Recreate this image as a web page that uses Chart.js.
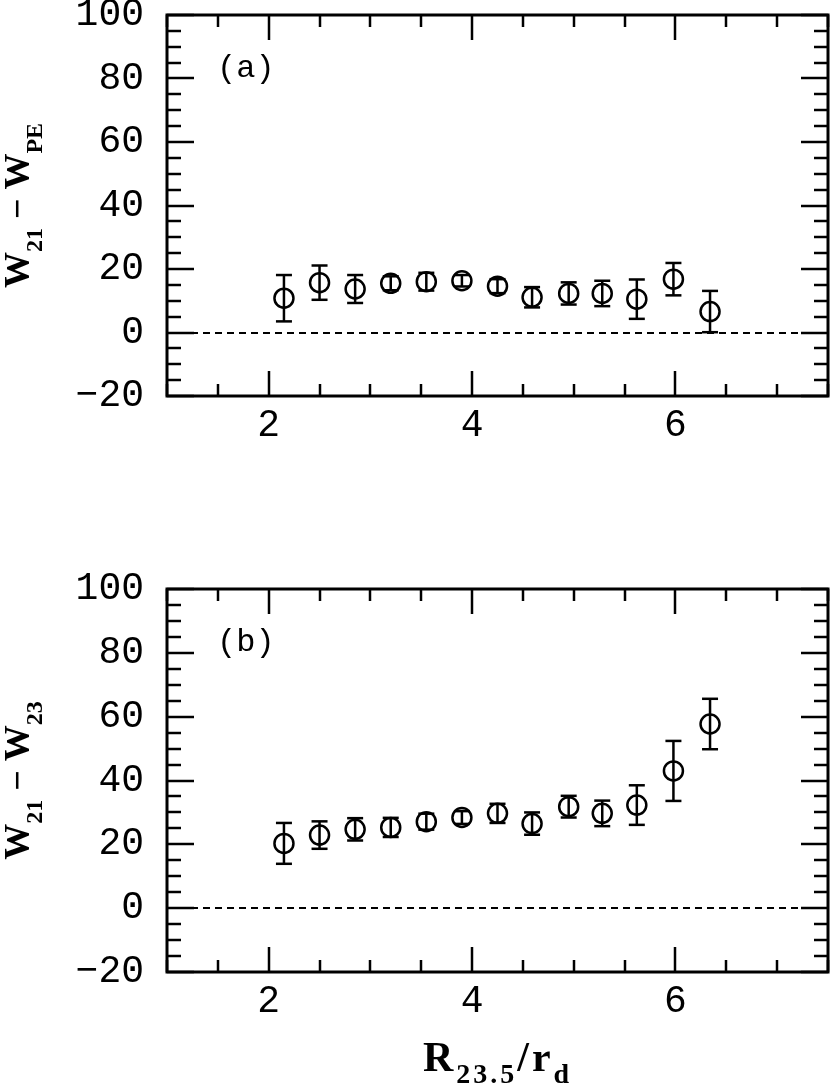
<!DOCTYPE html>
<html>
<head>
<meta charset="utf-8">
<script src="https://cdn.jsdelivr.net/npm/chart.js@4.4.1/dist/chart.umd.min.js"></script>
<style>
  html, body { margin: 0; padding: 0; background: #fff; }
  #wrap { position: relative; width: 830px; height: 1087px; overflow: hidden; }
  canvas { position: absolute; left: 0; }
</style>
</head>
<body>
<div id="wrap">
  <canvas id="chartA" width="830" height="470" style="top:0"></canvas>
  <canvas id="chartB" width="830" height="527" style="top:560px"></canvas>
</div>
<script>
// ---- data ----
const ratio  = [2.15, 2.50, 2.85, 3.20, 3.55, 3.90, 4.25, 4.59, 4.95, 5.28, 5.62, 5.98, 6.34];
const diffPE = [10.8, 15.7, 13.7, 15.5, 16.0, 16.3, 14.6, 11.1, 12.3, 12.3, 10.5, 16.8, 6.6];
const errPE  = [7.3, 5.4, 4.4, 2.2, 2.8, 1.8, 2.2, 3.2, 3.5, 4.0, 6.2, 5.1, 6.5];
const diff23 = [20.3, 22.9, 24.7, 25.3, 27.1, 28.4, 29.7, 26.5, 31.8, 29.7, 32.3, 43.0, 57.7];
const err23  = [6.4, 4.3, 3.5, 3.0, 2.5, 2.0, 3.0, 3.5, 3.4, 4.0, 6.2, 9.4, 7.9];

const xRange = [1, 7.5];
const xLabelTicks = [2, 4, 6];
const xMinorStep = 0.5;
const yRange = [-20, 100];
const yMajorStep = 20;
const yMinorStep = 5;

// axis titles as [text, isSubscript]
const yTitleA = [['W', 0], ['21', 1], [' \u2212 ', 0], ['W', 0], ['PE', 1]];
const yTitleB = [['W', 0], ['21', 1], [' \u2212 ', 0], ['W', 0], ['23', 1]];
const xTitle  = [['R', 0], ['23.5', 1], ['/', 0], ['r', 0], ['d', 1]];

const tickFont = { family: '"Liberation Mono", monospace', size: 38 };

function line(ctx, x1, y1, x2, y2) {
    ctx.beginPath();
    ctx.moveTo(x1, y1);
    ctx.lineTo(x2, y2);
    ctx.stroke();
}

function drawRich(ctx, parts, cx, baseline, big, small, shift, spacing) {
    ctx.letterSpacing = spacing + 'px';
    let total = 0;
    const widths = parts.map(([t, sub]) => {
        ctx.font = 'bold ' + (sub ? small : big) + 'px "Liberation Serif"';
        const w = ctx.measureText(t).width;
        total += w;
        return w;
    });
    let x = cx - total / 2;
    ctx.textAlign = 'left';
    ctx.textBaseline = 'alphabetic';
    parts.forEach(([t, sub], i) => {
        ctx.font = 'bold ' + (sub ? small : big) + 'px "Liberation Serif"';
        ctx.fillText(t, x, baseline + (sub ? shift : 0));
        x += widths[i];
    });
    ctx.letterSpacing = '0px';
}

/* ========== FRAME, TICKS, ERROR BARS, LABELS ========== */
function panelPlugin(opts) {
    return {
        id: 'panel' + opts.label,
        afterDatasetsDraw(chart) {
            const ctx = chart.ctx;
            const a = chart.chartArea;
            const xs = chart.scales.x, ys = chart.scales.y;
            ctx.save();
            ctx.strokeStyle = '#000';
            ctx.fillStyle = '#000';

            // zero line
            ctx.lineWidth = 2;
            ctx.setLineDash([7, 5]);
            const y0 = Math.round(ys.getPixelForValue(0));
            line(ctx, a.left, y0, a.right, y0);
            ctx.setLineDash([]);

            // error bars
            ctx.lineWidth = 2.5;
            ratio.forEach((r, i) => {
                const px = xs.getPixelForValue(r);
                const top = ys.getPixelForValue(opts.values[i] + opts.errors[i]);
                const bot = ys.getPixelForValue(opts.values[i] - opts.errors[i]);
                line(ctx, px, top, px, bot);
                line(ctx, px - 8, top, px + 8, top);
                line(ctx, px - 8, bot, px + 8, bot);
            });

            // ticks on all four sides
            ctx.lineWidth = 2.5;
            for (let v = xRange[0]; v <= xRange[1] + 1e-9; v += xMinorStep) {
                const px = Math.round(xs.getPixelForValue(v));
                const len = xLabelTicks.includes(v) ? 25 : 12;
                line(ctx, px, a.bottom, px, a.bottom - len);
                line(ctx, px, a.top, px, a.top + len);
            }
            for (let v = yRange[0]; v <= yRange[1] + 1e-9; v += yMinorStep) {
                const py = Math.round(ys.getPixelForValue(v));
                const len = v % yMajorStep === 0 ? 27 : 14;
                line(ctx, a.left, py, a.left + len, py);
                line(ctx, a.right, py, a.right - len, py);
            }

            // frame
            ctx.lineWidth = 3;
            ctx.strokeRect(a.left, a.top, a.right - a.left, a.bottom - a.top);

            // panel label
            ctx.font = '32px "Liberation Mono"';
            ctx.textAlign = 'left';
            ctx.textBaseline = 'alphabetic';
            ctx.fillText(opts.label, a.left + 50, a.top + 62);

            // y title (rotated)
            ctx.save();
            ctx.translate(29, (a.top + a.bottom) / 2);
            ctx.rotate(-Math.PI / 2);
            drawRich(ctx, opts.yTitle, 0, 0, 36, 24, 13, 0);
            ctx.restore();

            // x title
            if (opts.xTitle) {
                drawRich(ctx, opts.xTitle, (a.left + a.right) / 2, chart.height - 16, 42, 28, 12, 3);
            }
            ctx.restore();
        }
    };
}

function makeChart(id, values, errors, label, yTitle, withXTitle, padTop, xAxisHeight) {
    const points = ratio.map((x, i) => ({ x, y: values[i] }));
    return new Chart(document.getElementById(id), {
        type: 'scatter',
        data: {
            datasets: [{
                data: points,
                pointStyle: 'circle',
                pointRadius: 9.5,
                pointHoverRadius: 9.5,
                pointBorderWidth: 2.5,
                borderColor: '#000',
                backgroundColor: 'rgba(0,0,0,0)'
            }]
        },
        options: {
            responsive: false,
            animation: false,
            devicePixelRatio: 1,
            events: [],
            layout: { autoPadding: false, padding: { top: padTop, right: 2, left: 0, bottom: 0 } },
            plugins: { legend: { display: false }, tooltip: { enabled: false } },
            scales: {
                x: {
                    type: 'linear',
                    min: xRange[0],
                    max: xRange[1],
                    grid: { display: false, drawTicks: false },
                    border: { display: false },
                    afterBuildTicks: s => { s.ticks = xLabelTicks.map(v => ({ value: v })); },
                    ticks: { font: tickFont, color: '#000', padding: 7, maxRotation: 0, autoSkip: false },
                    afterFit: s => {
                        s.height = xAxisHeight;
                        s.paddingLeft = 0; s.paddingRight = 0;
                    }
                },
                y: {
                    min: yRange[0],
                    max: yRange[1],
                    grid: { display: false, drawTicks: false },
                    border: { display: false },
                    ticks: {
                        font: tickFont, color: '#000', padding: 23, stepSize: yMajorStep,
                        callback: v => v < 0 ? '\u2212' + (-v) : String(v)
                    },
                    afterFit: s => {
                        s.width = 167;
                        s.paddingTop = 0; s.paddingBottom = 0;
                    }
                }
            }
        },
        plugins: [panelPlugin({ label, values, errors, yTitle, xTitle: withXTitle ? xTitle : null })]
    });
}

makeChart('chartA', diffPE, errPE, '(a)', yTitleA, false, 15, 74);
makeChart('chartB', diff23, err23, '(b)', yTitleB, true, 29, 115);
</script>
</body>
</html>
